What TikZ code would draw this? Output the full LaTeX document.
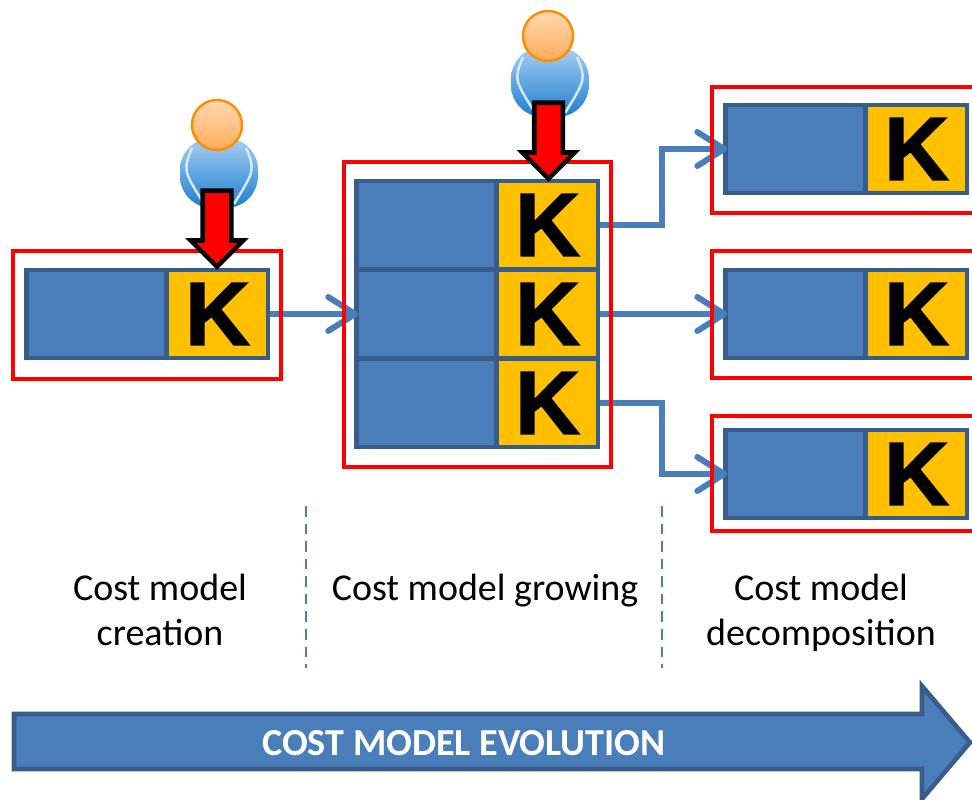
\documentclass[tikz,border=0pt]{standalone}
\usepackage{fontspec}
\setmainfont{Carlito}
\newfontfamily\kfont[BoldFeatures={FakeBold=1.6}]{Liberation Sans}
\usetikzlibrary{arrows.meta,shapes.arrows}
\definecolor{cellblue}{HTML}{4A7EBB}
\definecolor{celledge}{HTML}{385D8A}
\definecolor{keygold}{HTML}{FFC000}
\definecolor{userlight}{HTML}{A6D0F2}
\definecolor{userdark}{HTML}{1F7ED0}
\begin{document}
\begin{tikzpicture}
    % Stili per i nodi
    \tikzstyle{cell}=[rectangle, draw=celledge, fill=cellblue, minimum width=1.40cm, minimum height=0.88cm, line width=1.3pt, inner sep=0pt]
    \tikzstyle{keycell}=[rectangle, draw=celledge, fill=keygold, text=black, minimum width=1.01cm, minimum height=0.88cm, line width=1.3pt, inner sep=0pt, font=\kfont\bfseries\fontsize{25.6}{26}\selectfont]
    \tikzstyle{frame}=[rectangle, draw=red, line width=1.3pt, inner sep=0pt]
    \tikzstyle{link}=[-{Straight Barb[length=0.27cm,width=0.34cm,round]}, shorten >=-0.04cm, line width=1.7pt, color=cellblue]
    \tikzstyle{divider}=[densely dashed, cellblue, line width=0.35pt]
    \tikzstyle{phase}=[align=center, text=black, font=\fontsize{10.8}{12.8}\selectfont]
    \tikzstyle{body}=[rectangle, rounded corners=0.32cm, top color=userlight, bottom color=userdark, minimum width=0.78cm, minimum height=0.70cm, inner sep=0pt]
    \tikzstyle{head}=[circle, draw=orange!90!yellow, top color=orange!30!white, bottom color=orange!65!white, line width=0.7pt, minimum size=0.50cm, inner sep=0pt]
    \tikzstyle{pick}=[single arrow, draw=black, fill=red, rotate=-90, anchor=tip, minimum height=0.76cm, minimum width=0.48cm, single arrow head extend=0.12cm, line width=1.3pt, inner xsep=0pt, inner ysep=0.12cm, miter limit=10]
    \tikzstyle{gloss}=[white!55!userlight, line width=0.7pt]

    \clip (0,0) rectangle (9.72,8);

    % Blocco iniziale
    \node[cell] (createA) at (0.965,4.86) {};
    \node[keycell] (createK) at (2.175,4.86) {K};

    % Blocchi centrali
    \node[cell] (growA1) at (4.265,5.75) {};
    \node[keycell] (growK1) at (5.475,5.75) {K};
    \node[cell] (growA2) at (4.265,4.86) {};
    \node[keycell] (growK2) at (5.475,4.86) {K};
    \node[cell] (growA3) at (4.265,3.97) {};
    \node[keycell] (growK3) at (5.475,3.97) {K};

    % Blocchi finali
    \node[cell] (splitA1) at (7.955,6.51) {};
    \node[keycell] (splitK1) at (9.165,6.51) {K};
    \node[cell] (splitA2) at (7.955,4.86) {};
    \node[keycell] (splitK2) at (9.165,4.86) {K};
    \node[cell] (splitA3) at (7.955,3.26) {};
    \node[keycell] (splitK3) at (9.165,3.26) {K};

    % Frecce
    \draw[link] (createK.east) -- (growA2.west);
    \draw[link] (growK1.east) -- ++(0.62,0) |- (splitA1.west);
    \draw[link] (growK2.east) -- (splitA2.west);
    \draw[link] (growK3.east) -- ++(0.62,0) |- (splitA3.west);

    % Cornici rosse
    \node[frame, minimum width=2.68cm, minimum height=1.28cm] (createFrame) at (1.47,4.85) {};
    \node[frame, minimum width=2.67cm, minimum height=3.05cm] (growFrame) at (4.775,4.855) {};
    \node[frame, minimum width=2.80cm, minimum height=1.26cm] (splitFrame1) at (8.52,6.50) {};
    \node[frame, minimum width=2.80cm, minimum height=1.27cm] (splitFrame2) at (8.52,4.855) {};
    \node[frame, minimum width=2.80cm, minimum height=1.15cm] (splitFrame3) at (8.52,3.265) {};

    % Utente a sinistra
    \node[body] (userBody1) at (2.19,6.27) {};
    \draw[gloss] (1.92,6.52) .. controls (1.83,6.30) .. (2.04,5.96);
    \draw[gloss] (2.46,6.52) .. controls (2.55,6.30) .. (2.34,5.96);
    \node[head] (userHead1) at (2.17,6.75) {};
    \node[pick] (pick1) at (2.17,5.30) {};

    % Utente al centro
    \node[body] (userBody2) at (5.50,7.18) {};
    \draw[gloss] (5.23,7.43) .. controls (5.14,7.21) .. (5.35,6.87);
    \draw[gloss] (5.77,7.43) .. controls (5.86,7.21) .. (5.65,6.87);
    \node[head] (userHead2) at (5.48,7.64) {};
    \node[pick] (pick2) at (5.485,6.18) {};

    % Separatori
    \coordinate (sepTop1) at (3.06,2.94);
    \coordinate (sepBottom1) at (3.06,1.32);
    \coordinate (sepTop2) at (6.62,2.94);
    \coordinate (sepBottom2) at (6.62,1.32);
    \draw[divider] (sepTop1) -- (sepBottom1);
    \draw[divider] (sepTop2) -- (sepBottom2);

    % Etichette
    \node[phase] (labelCreate) at (1.60,1.90) {Cost model\\creation};
    \node[phase] (labelGrow) at (4.85,2.09) {Cost model growing};
    \node[phase] (labelSplit) at (8.21,1.87) {Cost model\\decomposition};

    % Freccia di evoluzione
    \draw[fill=cellblue, draw=celledge, line width=1.3pt, miter limit=10] (0.14,0.86) -- (9.22,0.86) -- (9.22,1.14) -- (9.70,0.575) -- (9.22,0.01) -- (9.22,0.31) -- (0.14,0.31) -- cycle;
    \node[text=white, font=\bfseries\fontsize{10.85}{12}\selectfont] (evolution) at (4.64,0.57) {COST MODEL EVOLUTION};
\end{tikzpicture}
\end{document}
